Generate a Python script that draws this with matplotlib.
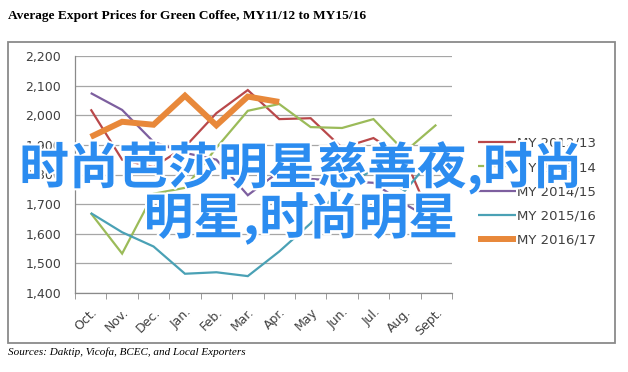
import numpy as np
import matplotlib.pyplot as plt
import matplotlib.patheffects as pe
from matplotlib.patches import Rectangle

# ## Data ## #
months = ['Oct.', 'Nov.', 'Dec.', 'Jan.', 'Feb.', 'Mar.', 'Apr.', 'May',
          'Jun.', 'Jul.', 'Aug.', 'Sept.']

my1213 = [2020, 1850, 1825, 1893, 2007, 2085, 1987, 1990, 1890, 1923, 1855, 1610]
my1314 = [1670, 1533, 1735, 1755, 1890, 2015, 2038, 1960, 1957, 1987, 1877, 1968]
my1415 = [2075, 2018, 1910, 1873, 1850, 1730, 1810, 1785, 1778, 1772, 1700, 1640]
my1516 = [1670, 1605, 1557, 1465, 1470, 1457, 1540, 1635, 1760, 1815, 1745, 1870]
my1617 = [1927, 1978, 1968, 2066, 1966, 2063, 2045]

series = [('MY 2012/13', my1213, '#B9484A', 1.6),
          ('MY 2013/14', my1314, '#9BBB59', 1.6),
          ('MY 2014/15', my1415, '#7D5F9F', 1.6),
          ('MY 2015/16', my1516, '#4AA1B5', 1.6),
          ('MY 2016/17', my1617, '#E8883A', 4.3)]

yticks = np.arange(1400, 2201, 100)

title = 'Average Export Prices for Green Coffee, MY11/12 to MY15/16'
source = 'Sources: Daktip, Vicofa, BCEC, and Local Exporters'
overlay = '时尚芭莎明星慈善夜,时尚\n明星,时尚明星'

W, H = 628, 372

# ## Figure ## #
fig = plt.figure(figsize=(W / 100, H / 100), dpi=100)
fig.patch.set_facecolor('white')

# outer chart frame
fig.patches.append(Rectangle((8 / W, 1 - 343 / H), 607 / W, 301 / H,
                             transform=fig.transFigure, fill=False,
                             edgecolor='#8a8a8a', lw=1.3))

ax = fig.add_axes([75 / W, 1 - 293 / H, 377 / W, 237 / H])

x = np.arange(len(months))
for label, vals, col, lw in series:
    ax.plot(x[:len(vals)], vals, color=col, lw=lw, label=label,
            solid_capstyle='butt', solid_joinstyle='miter')

ax.set_xlim(-0.5, len(months) - 0.5)
ax.set_ylim(1400, 2200)
ax.set_yticks(yticks)
ax.set_yticklabels(['{:,}'.format(v) for v in yticks])
ax.yaxis.grid(True, color='#a6a6a6', lw=0.9)
ax.set_axisbelow(True)

ax.set_xticks(x)
ax.set_xticklabels(months, rotation=45, ha='right', va='top',
                   rotation_mode='anchor')
ax.set_xticks(np.arange(-0.5, len(months)), minor=True)
ax.tick_params(axis='x', which='major', length=0, pad=9,
               labelsize=9, labelcolor='#404040')
ax.tick_params(axis='x', which='minor', length=4, color='#8a8a8a')
ax.tick_params(axis='y', length=0, pad=10, labelsize=9,
               labelcolor='#404040')

for s in ['top', 'right']:
    ax.spines[s].set_visible(False)
for s in ['left', 'bottom']:
    ax.spines[s].set_color('#8a8a8a')
    ax.spines[s].set_linewidth(0.9)

fig.legend(loc='upper left', bbox_to_anchor=(466 / W, 1 - 125 / H),
           frameon=False, fontsize=9.5, handlelength=2.9,
           handletextpad=0.1, labelspacing=0.85,
           labelcolor='#404040')

fig.text(8 / W, 1 - 16 / H, title, fontsize=9.6, fontweight='bold',
         family='Liberation Serif', va='center', ha='left')
fig.text(8 / W, 1 - 352 / H, source, fontsize=8.0, style='italic',
         family='Liberation Serif', va='center', ha='left')

# overlay caption
fig.text(301 / W, 1 - 193 / H, overlay, fontsize=35.8, fontweight='bold',
         family=['Noto Sans CJK SC', 'DejaVu Sans'], color='#2B8CF0',
         ha='center', va='center', linespacing=0.93, zorder=10,
         path_effects=[pe.withStroke(linewidth=3, foreground='white')])

fig.savefig('out.png', dpi=100)
